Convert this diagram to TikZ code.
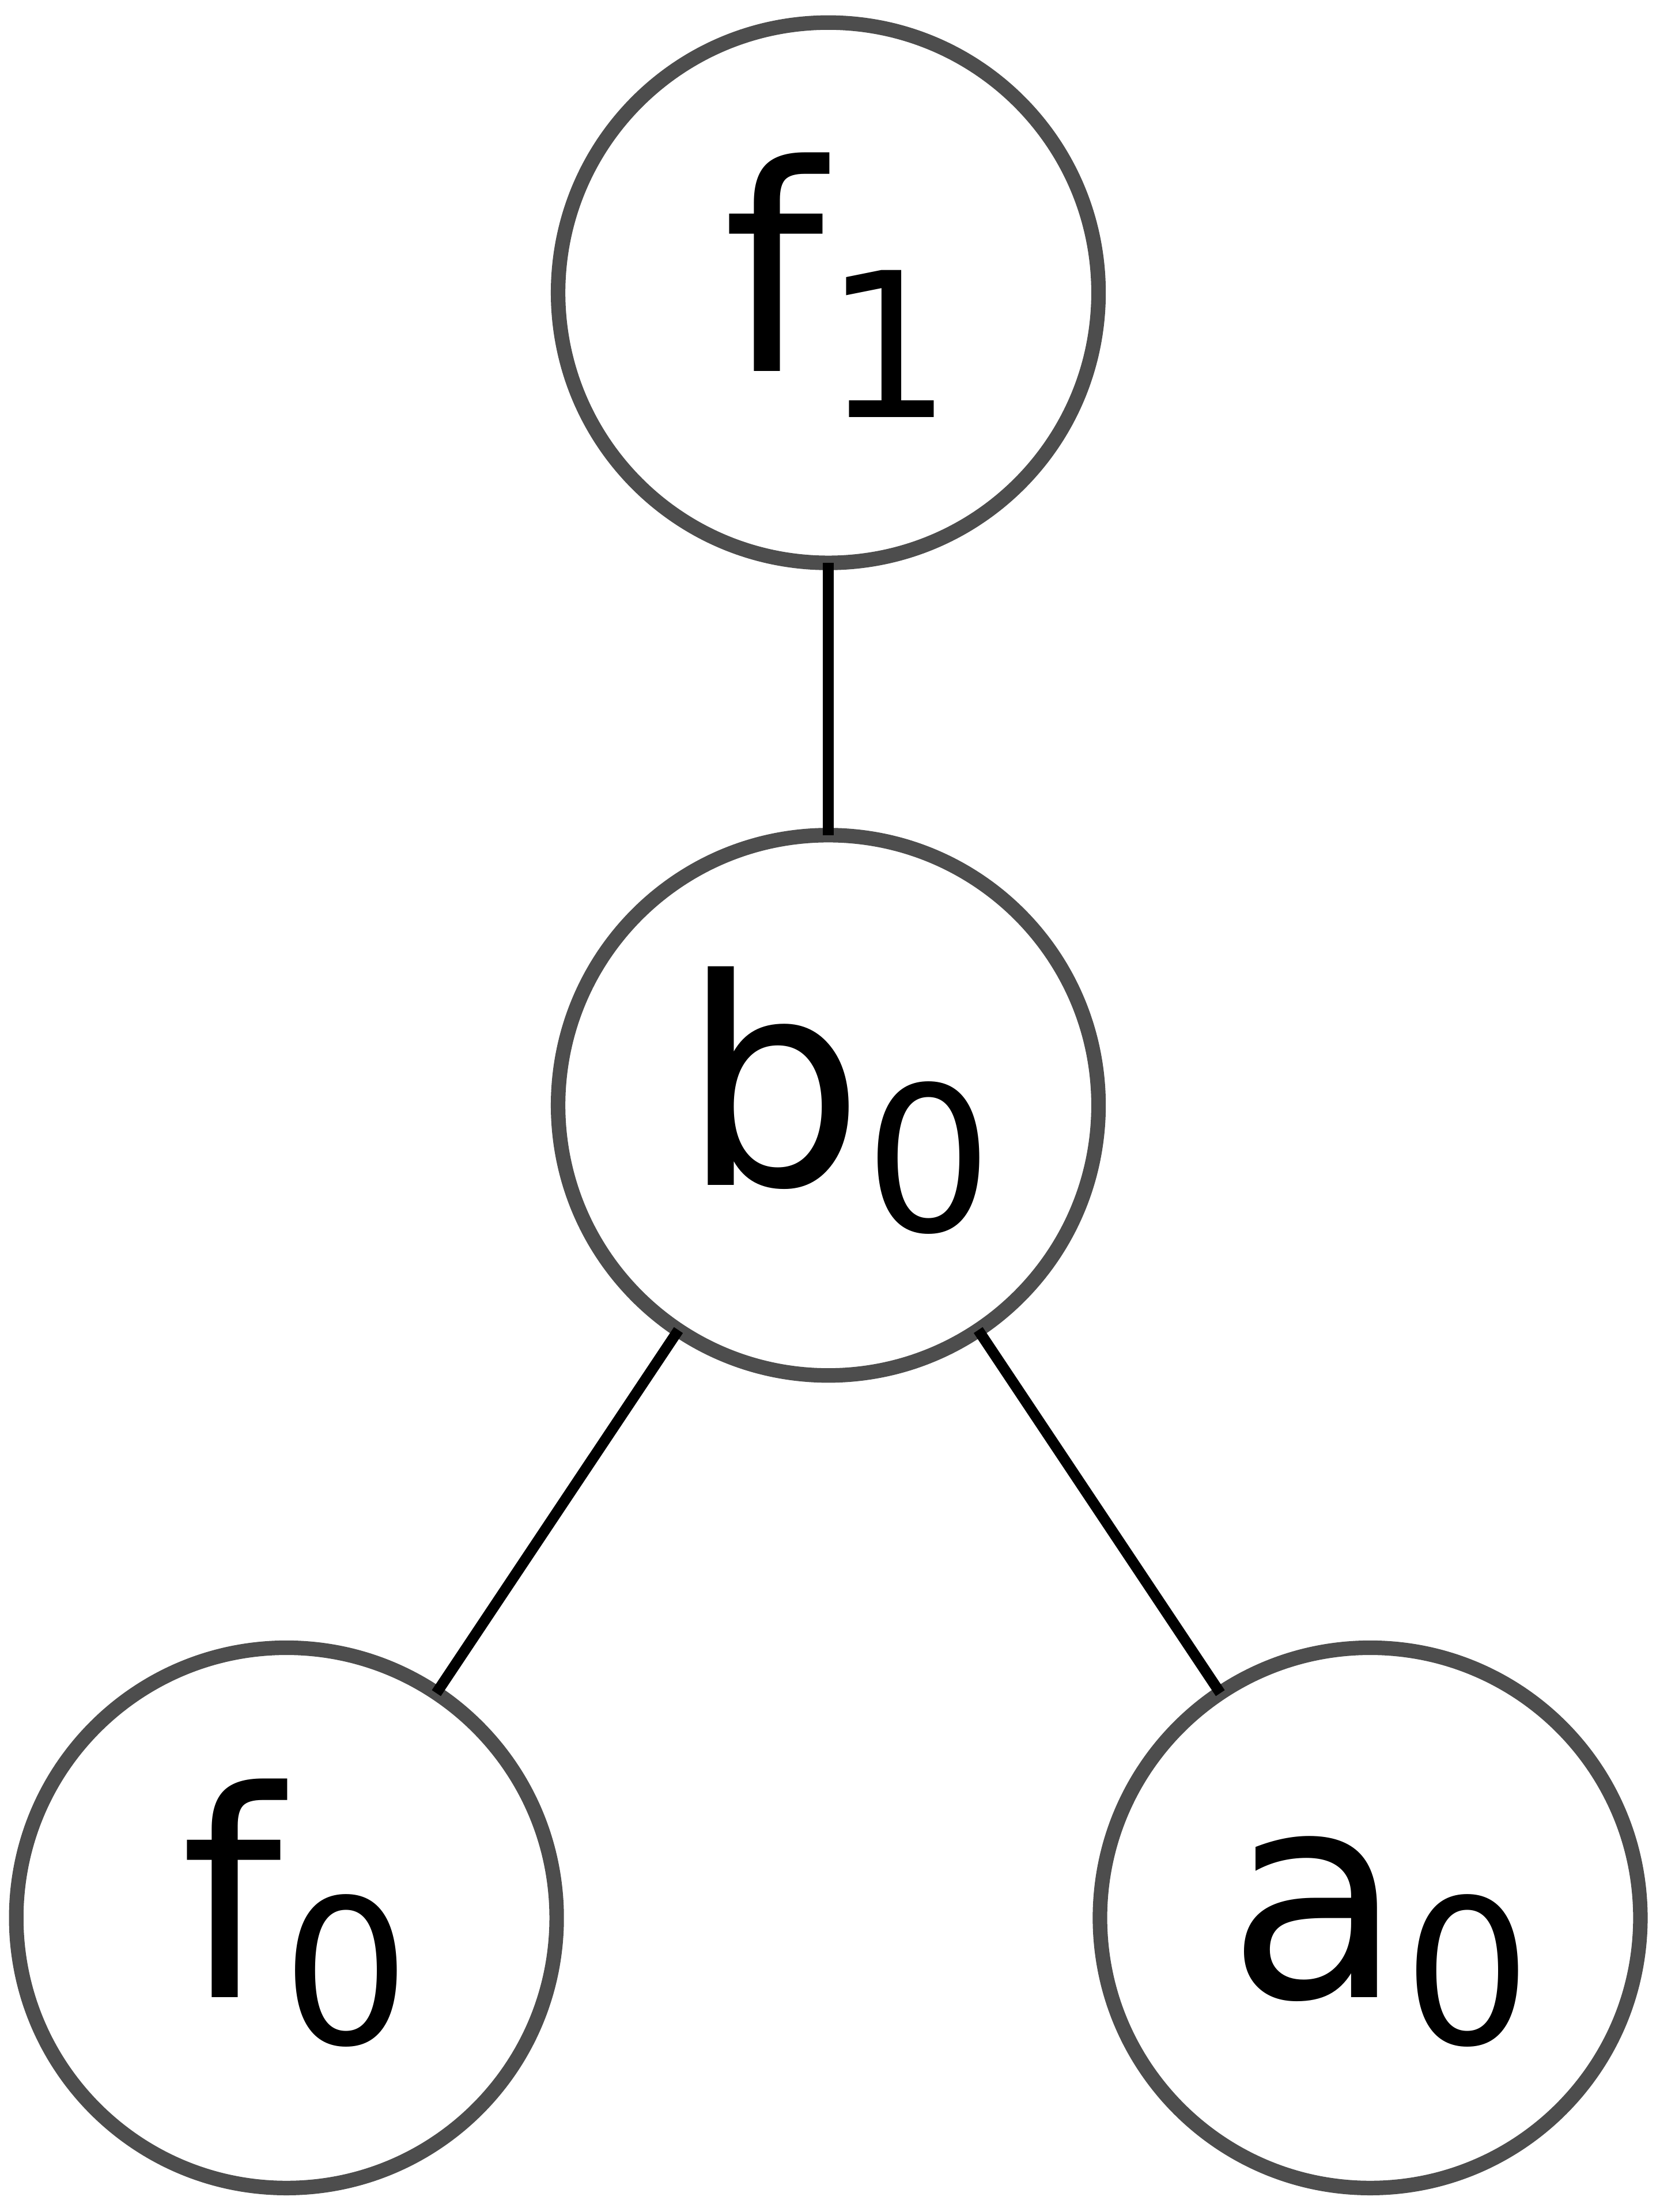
\documentclass[tikz,border=0pt]{standalone}
\usepackage{fontspec}
\setmainfont{DejaVu Sans}
\definecolor{ringgray}{HTML}{4D4D4D}
% lowered, smaller index after a base letter
\newcommand\lowidx[1]{\raisebox{-33pt}{\fontsize{143}{143}\selectfont #1}}
\begin{document}
\begin{tikzpicture}[x=1pt,y=-1pt,
  vertex/.style={circle,draw=ringgray,line width=10.3pt,minimum size=383pt,
                 inner sep=0pt,outer sep=0pt,fill=white},
  edge/.style={draw=black,line width=7.6pt},
  lbl/.style={anchor=base,inner sep=0pt,outer sep=0pt,
              font=\fontsize{204}{204}\selectfont}]
\useasboundingbox (0,0) rectangle (1176,1568);

\node[vertex] (f1) at (587,207.5) {};
\node[vertex] (b0) at (587,783.5) {};
\node[vertex] (f0) at (203,1359.5) {};
\node[vertex] (a0) at (971,1359.5) {};

\draw[edge] (f1) -- (b0);
\draw[edge] (b0) -- (f0);
\draw[edge] (b0) -- (a0);

\node[lbl] (f1l) at ([xshift=6.5pt,yshift=-55.5pt]f1.center) {f\lowidx{1}};
\node[lbl] (b0l) at ([xshift=6.5pt,yshift=-56.5pt]b0.center) {b\lowidx{0}};
\node[lbl] (f0l) at ([xshift=6.5pt,yshift=-56.5pt]f0.center) {f\lowidx{0}};
\node[lbl] (a0l) at ([xshift=6.5pt,yshift=-56.5pt]a0.center) {a\lowidx{0}};
\end{tikzpicture}
\end{document}
